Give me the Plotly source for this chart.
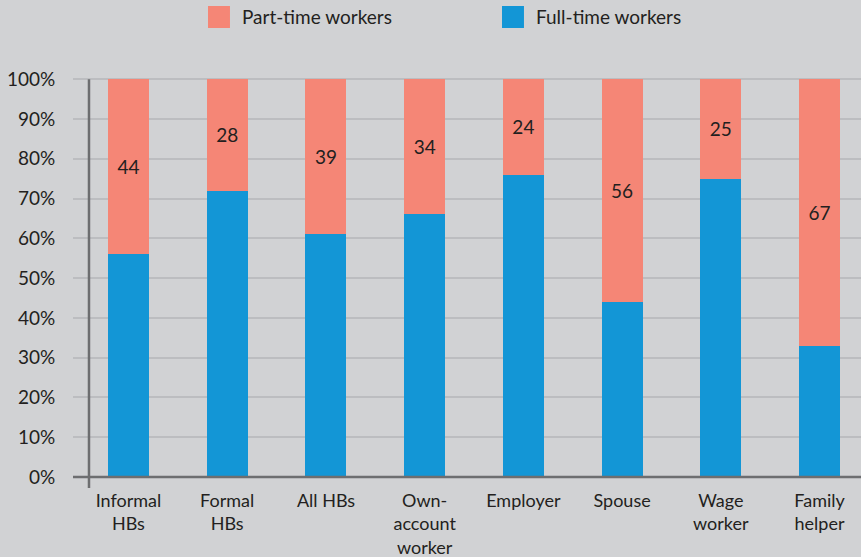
import plotly.graph_objects as go

categories = ["Informal<br>HBs", "Formal<br>HBs", "All HBs", "Own-<br>account<br>worker",
              "Employer", "Spouse", "Wage<br>worker", "Family<br>helper"]
full_time = [56, 72, 61, 66, 76, 44, 75, 33]
part_time = [44, 28, 39, 34, 24, 56, 25, 67]
tick_vals = [0, 10, 20, 30, 40, 50, 60, 70, 80, 90, 100]
tick_text = ["0%", "10%", "20%", "30%", "40%", "50%", "60%", "70%", "80%", "90%", "100%"]

BG = "#D1D2D4"
PINK = "#F58676"
BLUE = "#1396D6"
TXT = "#231F20"
FONT = "Lato"
FS = 19

x = list(range(len(categories)))

fig = go.Figure()
fig.add_trace(go.Bar(x=x, y=full_time, marker=dict(color=BLUE, line=dict(width=0)),
                     width=0.415, name="Full-time workers", showlegend=False))
fig.add_trace(go.Bar(x=x, y=part_time, marker=dict(color=PINK, line=dict(width=0)),
                     width=0.415, name="Part-time workers", showlegend=False,
                     text=[str(v) for v in part_time], textposition="inside",
                     insidetextanchor="middle",
                     textfont=dict(family=FONT, size=FS, color=TXT)))

fig.update_layout(
    barmode="stack",
    width=861, height=557,
    paper_bgcolor=BG, plot_bgcolor=BG,
    margin=dict(l=73, r=0, t=78, b=69),
    font=dict(family=FONT, size=FS, color=TXT),
    showlegend=False,
)
fig.update_xaxes(
    range=[-0.562, 7.42], tickvals=x, ticktext=categories,
    showgrid=False, zeroline=False, showline=False, ticks="",
    automargin=False,
    tickfont=dict(family=FONT, size=18, color=TXT),
)
fig.update_yaxes(
    range=[-2.75, 100.3], tickvals=tick_vals, ticktext=tick_text,
    showgrid=True, gridcolor="#BCBDC0", gridwidth=2,
    zeroline=False, showline=False, automargin=False,
    ticks="outside", ticklen=13, tickcolor=BG,
    tickfont=dict(family=FONT, size=FS, color=TXT),
)
# zero baseline and vertical axis line
fig.add_shape(type="line", xref="paper", yref="y", x0=0, x1=1, y0=0, y1=0,
              line=dict(color="#6D6E70", width=2.5))
fig.add_shape(type="line", xref="x", yref="y", x0=-0.40, x1=-0.40, y0=-2.75, y1=100,
              line=dict(color="#6D6E70", width=2.5))

# manual legend
legend_items = [("Part-time workers", PINK, 0.1713), ("Full-time workers", BLUE, 0.5444)]
for label, col, x0 in legend_items:
    fig.add_shape(type="rect", xref="paper", yref="paper",
                  x0=x0, x1=x0 + 0.0279, y0=1.122, y1=1.1756,
                  fillcolor=col, line=dict(width=0))
    fig.add_annotation(xref="paper", yref="paper", x=x0 + 0.041, y=1.1488,
                       text=label, showarrow=False, xanchor="left", yanchor="middle",
                       font=dict(family=FONT, size=FS, color=TXT))

fig.write_html("out.html", config={"displayModeBar": False},
               post_script="document.body.style.margin='0';document.body.style.overflow='hidden';")
